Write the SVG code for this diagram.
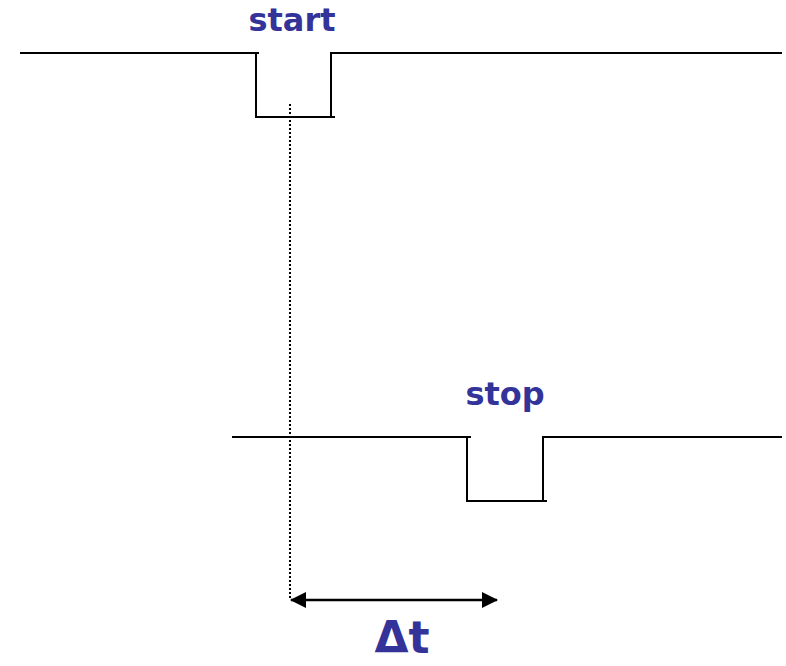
<svg xmlns="http://www.w3.org/2000/svg" width="786" height="666" viewBox="0 0 786 666">
<style>
.sig{fill:none;stroke:#000;stroke-width:2}
.lbl{font-family:"DejaVu Sans",Verdana,sans-serif;font-weight:bold;fill:#333399;text-anchor:middle}
</style>
<defs>
<marker id="ah" viewBox="0 0 16 16" refX="15" refY="8" markerWidth="16" markerHeight="16" markerUnits="userSpaceOnUse" orient="auto-start-reverse">
<path d="M0,0 L16,8 L0,16 Z" fill="#000"/>
</marker>
</defs>
<rect width="786" height="666" fill="#fff"/>
<g id="start-signal">
<polyline class="sig" points="20,53 259,53"/>
<polyline class="sig" points="256,53 256,117 335,117"/>
<polyline class="sig" points="331,117 331,53 782,53"/>
<text class="lbl" x="292" y="31" font-size="32">start</text>
</g>
<g id="stop-signal">
<polyline class="sig" points="232,437 471,437"/>
<polyline class="sig" points="467,437 467,501 547,501"/>
<polyline class="sig" points="543,501 543,437 782,437"/>
<text class="lbl" x="505" y="405" font-size="32">stop</text>
</g>
<g id="connectors">
<line x1="290" y1="104" x2="290" y2="600" stroke="#000" stroke-width="2" stroke-dasharray="2,2"/>
<line x1="291" y1="600" x2="497" y2="600" stroke="#000" stroke-width="2.5" marker-start="url(#ah)" marker-end="url(#ah)"/>
</g>
<g id="delta-label">
<text class="lbl" x="402" y="653" font-size="44">Δt</text>
</g>
</svg>
